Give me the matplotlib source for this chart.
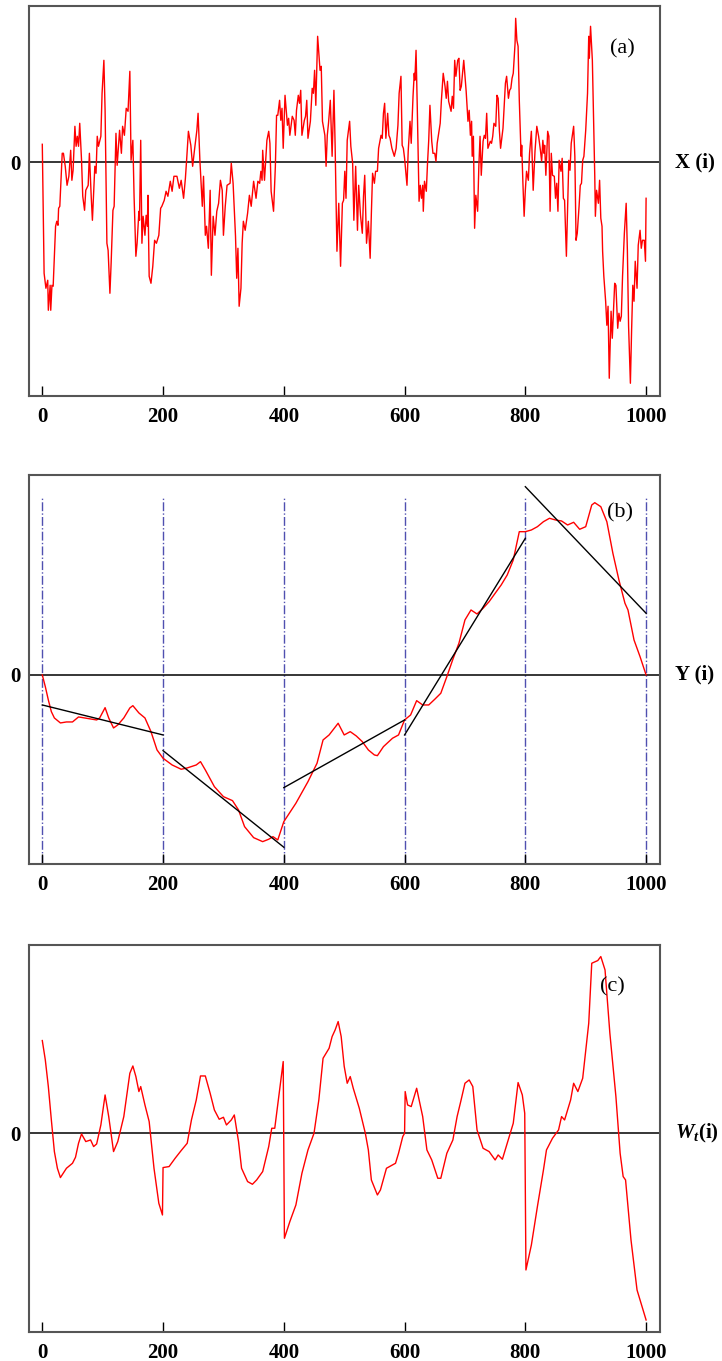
import numpy as np
import matplotlib.pyplot as plt
from matplotlib.transforms import blended_transform_factory

plt.rcParams['font.family'] = ['Liberation Serif', 'DejaVu Serif']
plt.rcParams['mathtext.fontset'] = 'custom'
plt.rcParams['mathtext.it'] = 'Liberation Serif:bold:italic'
plt.rcParams['mathtext.rm'] = 'Liberation Serif:bold'

# (a) signal X(i)
xa = [0, 3, 6, 9, 10, 13, 14, 16, 18, 22, 24, 26, 27, 29, 33, 35, 38, 41, 44, 47, 49, 51, 54, 56, 58, 60,
      62, 65, 67, 70, 72, 76, 78, 81, 83, 87, 89, 91, 93, 97, 99, 102, 104, 107, 109, 112, 114, 117, 119,
      122, 124, 128, 131, 133, 136, 139, 142, 145, 147, 150, 152, 155, 157, 160, 161, 163, 165, 167, 170,
      172, 174, 175, 177, 180, 183, 186, 189, 193, 196, 198, 202, 205, 208, 212, 215, 218, 223, 227, 230,
      234, 237, 239, 242, 246, 249, 252, 256, 258, 261, 265, 267, 270, 272, 275, 278, 280, 283, 286, 289,
      292, 295, 298, 300, 303, 306, 311, 313, 316, 320, 322, 324, 326, 329, 331, 333, 336, 340, 343, 346,
      350, 354, 357, 360, 362, 364, 365, 368, 372, 375, 377, 379, 383, 386, 388, 390, 393, 395, 397, 399,
      402, 406, 408, 410, 414, 417, 419, 421, 424, 426, 428, 430, 434, 436, 438, 440, 444, 447, 449, 451,
      453, 456, 458, 460, 462, 464, 468, 470, 472, 474, 477, 480, 483, 485, 488, 491, 494, 497, 499, 501,
      503, 505, 509, 511, 514, 516, 519, 522, 524, 527, 530, 532, 534, 537, 540, 543, 545, 547, 550, 552,
      555, 557, 561, 563, 565, 567, 569, 572, 574, 576, 579, 583, 586, 589, 591, 594, 596, 598, 600, 604,
      606, 609, 611, 614, 616, 617, 619, 621, 624, 626, 628, 630, 631, 633, 636, 638, 640, 642, 645, 647,
      650, 652, 654, 657, 659, 661, 664, 667, 669, 671, 673, 677, 679, 681, 683, 685, 688, 690, 692, 694,
      698, 700, 702, 705, 707, 709, 711, 712, 714, 716, 718, 721, 723, 725, 727, 730, 732, 734, 736, 738,
      742, 744, 746, 748, 751, 753, 755, 757, 759, 763, 765, 767, 769, 772, 774, 776, 778, 780, 783, 784,
      786, 788, 790, 793, 794, 796, 798, 800, 802, 805, 807, 810, 813, 816, 819, 822, 825, 827, 829, 831,
      832, 834, 837, 839, 841, 843, 845, 848, 850, 852, 854, 856, 859, 861, 863, 865, 868, 870, 872, 874,
      876, 880, 882, 884, 886, 889, 891, 893, 895, 897, 900, 903, 905, 906, 908, 911, 913, 915, 916, 918,
      921, 923, 925, 927, 928, 930, 933, 935, 937, 939, 942, 944, 946, 948, 950, 953, 955, 957, 959, 961,
      964, 967, 969, 971, 974, 976, 978, 980, 982, 985, 987, 990, 992, 994, 997, 999, 1000]
ya = [18, -111, -126, -118, -148, -123, -148, -123, -124, -64, -59, -63, -46, -44, 9, 9, -4, -23, -14, 12,
      -18, -8, 36, 16, 26, 16, 39, 2, -34, -48, -28, -23, 9, -34, -58, -4, -11, 26, 16, 26, 69, 102, 52,
      -81, -88, -131, -101, -48, -44, 29, -3, 32, 9, 36, 27, 54, 51, 91, 2, 22, -34, -94, -81, -49, -58,
      22, -81, -54, -73, -53, -64, -33, -114, -121, -104, -78, -81, -73, -46, -44, -38, -29, -34, -19, -29,
      -14, -14, -26, -18, -36, -16, 2, 31, 17, -4, 12, 32, 49, 2, -44, -14, -73, -64, -86, -28, -113, -54,
      -73, -49, -41, -18, -28, -73, -44, -23, -21, -1, -21, -74, -116, -86, -144, -126, -81, -59, -68, -51,
      -33, -44, -19, -36, -19, -21, -9, -18, 12, -18, 22, 31, 19, -29, -49, -4, 47, 47, 62, 42, 54, 14,
      67, 37, 44, 27, 46, 42, 27, 52, 67, 59, 72, 27, 42, 46, 62, 24, 41, 74, 69, 92, 57, 126, 109, 92,
      96, 41, 27, -4, 27, 39, 62, 6, 72, 16, -89, -41, -104, -41, -38, -9, -36, 22, 41, 16, -1, -58, -4,
      -68, -23, -53, -71, -34, -13, -81, -59, -96, -51, -11, -21, -9, -9, 14, 27, 24, 49, 59, 24, 49, 27,
      24, 14, 6, 14, 37, 69, 86, 17, 14, 4, -23, 11, 41, 19, 66, 89, 82, 112, 56, -39, -23, -36, -23, -49,
      -19, -29, -1, 22, 57, 21, 9, 9, 1, 19, 31, 39, 62, 89, 76, 64, 81, 61, 51, 66, 54, 102, 86, 102,
      104, 72, 76, 102, 86, 71, 41, 52, 27, 41, 6, 26, -66, -33, -49, -4, 26, -13, 21, 27, 24, 49, 14, 21,
      19, 26, 39, 36, 67, 64, 32, 14, 34, 56, 79, 86, 64, 72, 74, 84, 89, 119, 144, 122, 116, 62, 6, 17,
      -21, -54, -28, -9, -18, 9, 31, -28, 11, 36, 26, 12, 1, 22, 9, 17, -13, 31, 26, -49, 9, -13, -14,
      -36, -21, -49, 2, -9, 4, -36, -38, -94, -48, 2, -8, 19, 36, 6, -78, -71, -44, -23, -21, 2, 6, 32,
      69, 126, 104, 136, 102, 46, -14, -54, -28, -41, -18, -56, -64, -89, -114, -139, -163, -144, -216,
      -149, -176, -148, -121, -123, -166, -151, -159, -154, -114, -71, -41, -88, -164, -221, -168, -123,
      -139, -99, -126, -83, -68, -86, -78, -78, -99, -36]

# (b) profile Y(i)
xb = [0, 5, 10, 15, 20, 30, 40, 50, 60, 70, 80, 90, 95, 104, 110, 118, 125, 135, 145, 150, 160, 170, 180,
      190, 200, 215, 230, 240, 255, 262, 270, 285, 300, 315, 325, 335, 350, 365, 375, 382, 390, 400, 420,
      440, 455, 465, 475, 490, 500, 510, 520, 530, 540, 550, 555, 565, 580, 590, 600, 610, 620, 630, 640,
      650, 660, 670, 680, 690, 700, 710, 720, 730, 740, 750, 760, 770, 780, 790, 800, 810, 820, 830, 840,
      850, 860, 870, 880, 890, 900, 910, 915, 925, 935, 945, 955, 965, 970, 980, 990, 1000]
yb = [0, -11.7, -25, -36.7, -43, -48, -47, -47, -42, -43, -44, -45, -43, -32.7, -43, -53, -50, -43, -33,
      -30.7, -38, -43, -56.7, -75, -83.3, -90, -94.3, -93, -90, -86.7, -95, -111.7, -121.7, -125.7, -135,
      -151.7, -162.7, -166.7, -164.3, -161.7, -165, -146.7, -128.3, -106.7, -88.3, -65, -60, -48.3, -60,
      -56.7, -61, -66.7, -75, -80, -80.7, -71.7, -63.3, -60, -45, -40, -25.7, -30, -30, -24.3, -18.3, -1.7,
      15.7, 31.7, 55, 65, 61, 66.7, 73.3, 81.7, 90, 100, 115, 143.3, 143.3, 145, 148.3, 153.3, 156.7, 155,
      154, 150, 152.7, 145.7, 148.3, 170, 172.3, 168.3, 153.3, 121.7, 95, 71.7, 65, 35, 18.3, 0]

# local linear fits in each window of 200
win_start = [0, 200, 400, 600, 800]
win_end = [200, 400, 600, 800, 1000]
fit_start = [-30, -75.7, -112.7, -60, 188.3]
fit_end = [-60, -172.3, -45, 136.7, 61.7]

# (c) detrended W_t(i)
xc = [0, 5, 10, 15, 20, 25, 30, 40, 50, 55, 60, 65, 72, 80, 85, 90, 97, 104, 110, 118, 125, 135, 145, 150,
      155, 160, 163, 170, 177, 185, 193, 199, 200, 210, 220, 230, 240, 247, 255, 262, 270, 278, 285, 293,
      300, 305, 313, 318, 325, 330, 340, 348, 355, 365, 375, 380, 385, 399, 401, 410, 420, 430, 440, 450,
      458, 465, 475, 480, 485, 490, 495, 500, 505, 510, 515, 525, 535, 540, 545, 555, 560, 570, 580, 585,
      590, 597, 600, 601, 605, 611, 620, 630, 637, 645, 655, 660, 670, 680, 687, 693, 700, 707, 713, 720,
      730, 740, 750, 755, 762, 770, 780, 788, 795, 799, 801, 810, 820, 830, 835, 845, 855, 860, 865, 875,
      880, 887, 895, 905, 910, 920, 925, 932, 940, 950, 957, 962, 966, 975, 985, 1000]
wc = [92.7, 73.3, 46.7, 13.3, -18.3, -35, -44.3, -35, -30, -24, -10, -0.7, -8.3, -6.7, -13.3, -10.7, 8.3,
      38.3, 16.7, -18.3, -8.3, 16.7, 60, 67.3, 56.7, 41.7, 46.7, 28.3, 11.7, -35, -70, -81.7, -34.3, -33.3,
      -25, -17.3, -10, 13.3, 33.3, 57.3, 57.3, 40, 23.3, 14, 16, 8.3, 13.3, 18.3, -8.3, -35, -48.3, -51,
      -46.7, -38.3, -13.3, 5, 5, 71.7, -105, -88.3, -71.7, -40, -16.7, 0, 33.3, 75, 85, 96.7, 103.3, 111.7,
      96.7, 67, 50, 56.7, 45, 25, 0, -16.7, -46.7, -61.7, -56.7, -35, -31.7, -30, -20, -3.3, 0, 41.7, 28.3,
      26.7, 45, 16.7, -16.7, -26.7, -45, -45, -20, -6.7, 16.7, 31.7, 50, 53.3, 46.7, 3.3, -15, -18.3, -26.7,
      -21.7, -26, -10, 10, 50.7, 38.3, 20, -136.7, -111.7, -73.3, -36.7, -16.7, -5, 3.3, 16.7, 13.3, 33.3,
      50, 41.7, 55, 110, 170, 172.7, 176.7, 163.3, 100, 36.7, -20, -43.3, -46.7, -106.7, -156.7, -186.7]

fig = plt.figure(figsize=(7.22, 13.61), dpi=100)
left, width = 0.0406, 0.8735
ax_a = fig.add_axes([left, 0.7093, width, 0.2865])
ax_b = fig.add_axes([left, 0.3650, width, 0.2860])
ax_c = fig.add_axes([left, 0.0211, width, 0.2846])

panels = [
    (ax_a, (-233.4, 156.6), 'X (i)', '(a)', (0.941, 0.889)),
    (ax_b, (-189.3, 200.0), 'Y (i)', '(b)', (0.936, 0.902)),
    (ax_c, (-199.0, 188.3), r'$W_t$(i)', '(c)', (0.924, 0.892)),
]

for ax, ylim, ylab, tag, tagpos in panels:
    ax.set_xlim(-21.5, 1023)
    ax.set_ylim(*ylim)
    ax.axhline(0, color='black', lw=1.1, zorder=1)
    for s in ax.spines.values():
        s.set_color('#555555')
        s.set_linewidth(1.5)
    ax.set_xticks([0, 200, 400, 600, 800, 1000])
    ax.set_yticks([0])
    ax.tick_params(axis='x', direction='in', length=7, width=1, labelsize=15, pad=8)
    ax.tick_params(axis='y', length=0, labelsize=15, pad=6)
    for lab in ax.get_xticklabels() + ax.get_yticklabels():
        lab.set_fontweight('bold')
    tr = blended_transform_factory(ax.transAxes, ax.transData)
    ax.text(1.024, 0, ylab, transform=tr, ha='left', va='center', fontsize=15, fontweight='bold')
    ax.text(tagpos[0], tagpos[1], tag, transform=ax.transAxes, ha='center', va='center', fontsize=16)

ax_a.plot(xa, ya, color='red', lw=1.0)

for xv in [0, 200, 400, 600, 800, 1000]:
    ax_b.axvline(xv, ymin=0, ymax=0.9435, color='#5050b0', lw=1.0, linestyle='-.', zorder=0)
ax_b.plot(xb, yb, color='red', lw=1.0)
for x0, x1, y0, y1 in zip(win_start, win_end, fit_start, fit_end):
    ax_b.plot([x0, x1], [y0, y1], color='black', lw=1.0)

ax_c.plot(xc, wc, color='red', lw=1.0)

fig.savefig('out.png', dpi=100)
